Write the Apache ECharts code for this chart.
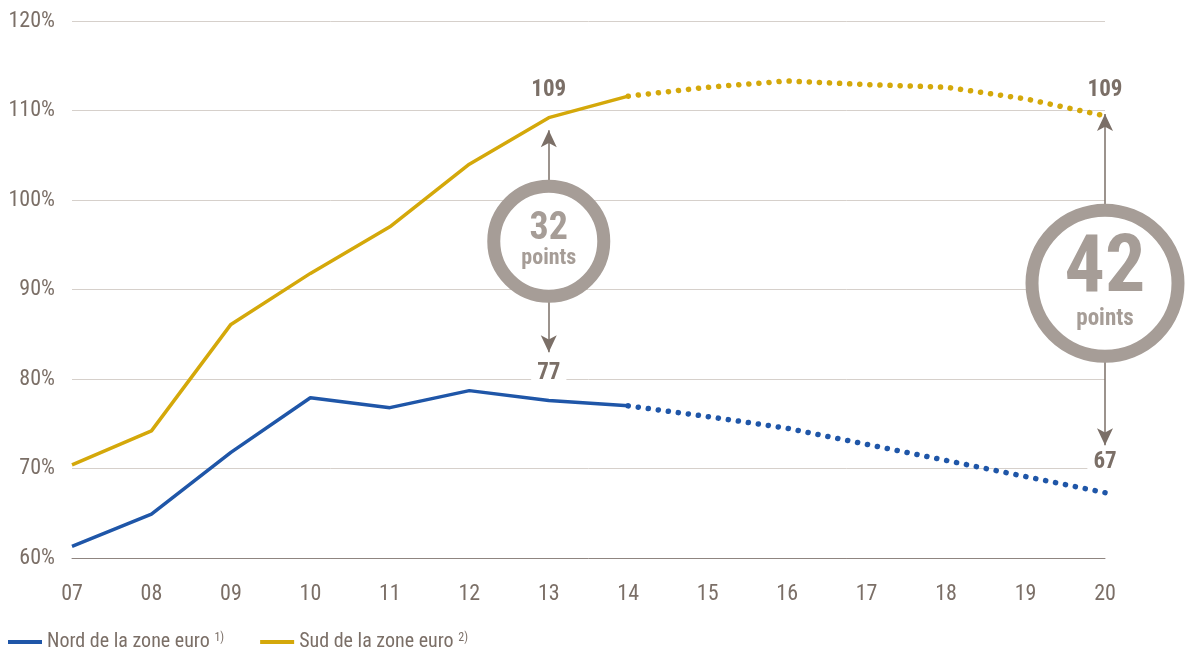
<!DOCTYPE html>
<html>
<head>
<meta charset="utf-8">
<script src="https://cdn.jsdelivr.net/npm/echarts@6/dist/echarts.min.js"></script>
<style>
  html, body { margin: 0; padding: 0; background: #fff; }
  #main { width: 1194px; height: 655px; }
</style>
</head>
<body>
<div id="main"></div>
<script>
var years = ['07', '08', '09', '10', '11', '12', '13', '14', '15', '16', '17', '18', '19', '20'];
var yTicks = [60, 70, 80, 90, 100, 110, 120];

// observed (solid) and projected (dotted) ratios, %
var nordObs = [61.3, 64.9, 71.8, 77.9, 76.8, 78.7, 77.6, 77.0];
var nordProj = [77.0, 75.8, 74.5, 72.7, 70.9, 69.1, 67.3];
var sudObs = [70.4, 74.2, 86.1, 91.8, 97.0, 104.0, 109.2, 111.6];
var sudProj = [111.6, 112.6, 113.3, 112.9, 112.6, 111.3, 109.4];

var gapLabels = ['32', '42'];

var BLUE = '#1f56a8';
var GOLD = '#d4a80a';
var RING = '#a69d97';
var TXT = '#7b6f67';
var FONT = "'Roboto Condensed', 'Roboto', sans-serif";

function pad(arr, before) {
    var out = [];
    for (var i = 0; i < before; i++) out.push('-');
    return out.concat(arr);
}

var arrowStyle = { color: TXT, width: 1.5, type: 'solid' };

function gapLines(cat, top, bottom) {
    return [
        [{ coord: [cat, top[0]] }, { coord: [cat, top[1]] }],
        [{ coord: [cat, bottom[0]] }, { coord: [cat, bottom[1]] }]
    ];
}

function valueLabel(cat, v, text, bg) {
    return {
        coord: [cat, v],
        symbol: 'circle',
        symbolSize: 0,
        label: {
            show: true,
            position: 'inside',
            formatter: text,
            color: TXT,
            fontFamily: FONT,
            fontWeight: 'bold',
            fontSize: 23,
            backgroundColor: bg ? '#fff' : 'transparent',
            padding: [0, 6]
        }
    };
}

function ring(cat, v, size, big, small, label) {
    return {
        coord: [cat, v],
        symbol: 'circle',
        symbolSize: size,
        itemStyle: { color: '#fff', borderColor: RING, borderWidth: 13 },
        label: {
            show: true,
            position: 'inside',
            formatter: '{a|' + label + '}\n{b|points}',
            rich: {
                a: { fontFamily: FONT, fontWeight: 'bold', fontSize: big, color: RING, lineHeight: big * 0.9 },
                b: { fontFamily: FONT, fontWeight: 'bold', fontSize: small, color: RING, lineHeight: small * 1.1 }
            }
        }
    };
}

var chart = echarts.init(document.getElementById('main'));

var option = {
    animation: false,
    grid: { left: 72, right: 89, top: 21, bottom: 97 },
    legend: {
        left: 3,
        bottom: -2,
        itemWidth: 34,
        itemHeight: 4,
        itemGap: 36,
        icon: 'rect',
        data: ['Nord de la zone euro', 'Sud de la zone euro'],
        formatter: function (name) {
            return name + ' {s|' + (name.indexOf('Nord') === 0 ? '1)' : '2)') + '}';
        },
        textStyle: {
            color: TXT,
            fontFamily: FONT,
            fontSize: 20,
            rich: { s: { fontSize: 12, color: TXT, fontFamily: FONT, verticalAlign: 'top', padding: [0, 0, 9, 0] } }
        }
    },
    xAxis: {
        type: 'category',
        data: years,
        boundaryGap: false,
        axisLine: { lineStyle: { color: '#8f8580', width: 1 } },
        axisTick: { show: false },
        axisLabel: { color: TXT, fontFamily: FONT, fontSize: 22, margin: 25 }
    },
    yAxis: {
        type: 'value',
        min: yTicks[0],
        max: yTicks[yTicks.length - 1],
        interval: 10,
        axisLine: { show: false },
        axisTick: { show: false },
        axisLabel: { color: TXT, fontFamily: FONT, fontSize: 22, margin: 17, formatter: '{value}%' },
        splitLine: { lineStyle: { color: '#d6d0cb', width: 1 } }
    },
    series: [
        {
            name: 'Nord de la zone euro',
            type: 'line',
            data: nordObs,
            showSymbol: false,
            color: BLUE,
            lineStyle: { color: BLUE, width: 3.5 }
        },
        {
            name: 'Sud de la zone euro',
            type: 'line',
            data: sudObs,
            showSymbol: false,
            color: GOLD,
            lineStyle: { color: GOLD, width: 3.5 }
        },
        {
            name: 'Nord projection',
            type: 'line',
            data: pad(nordProj, 7),
            showSymbol: false,
            lineStyle: { color: BLUE, width: 5.5, type: [0.1, 10], cap: 'round' }
        },
        {
            name: 'Sud projection',
            type: 'line',
            data: pad(sudProj, 7),
            showSymbol: false,
            lineStyle: { color: GOLD, width: 5.5, type: [0.1, 10], cap: 'round' },
            markLine: {
                silent: true,
                symbol: ['none', 'arrow'],
                symbolSize: [12, 17],
                label: { show: false },
                lineStyle: arrowStyle,
                emphasis: { disabled: true },
                data: gapLines('13', [102, 107.8], [88.9, 83.0])
                    .concat(gapLines('20', [99.5, 109.6], [82, 72.6]))
            },
            markPoint: {
                silent: true,
                data: [
                    ring('13', 95.4, 110, 38, 22, gapLabels[0]),
                    ring('20', 90.7, 146, 80, 23, gapLabels[1]),
                    valueLabel('13', 112.3, '109', false),
                    valueLabel('13', 80.6, '77', true),
                    valueLabel('20', 112.3, '109', false),
                    valueLabel('20', 70.7, '67', true)
                ]
            }
        }
    ]
};

chart.setOption(option);
</script>
</body>
</html>
